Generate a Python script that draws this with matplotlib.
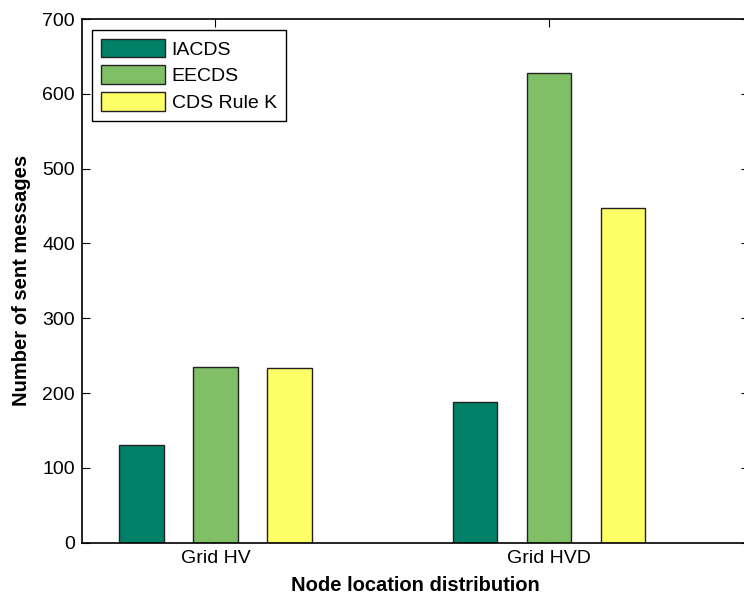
import matplotlib
matplotlib.use("Agg")
import matplotlib.pyplot as plt
import numpy as np

categories = ["Grid HV", "Grid HVD"]
series_names = ["IACDS", "EECDS", "CDS Rule K"]
iacds = [130, 188]
eecds = [235, 628]
cds_rule_k = [233, 448]
y_ticks = [0, 100, 200, 300, 400, 500, 600, 700]

colors = ["#008066", "#80BF66", "#FFFF66"]

plt.rcParams["font.family"] = ["Liberation Sans", "DejaVu Sans"]

fig = plt.figure(figsize=(7.44, 5.98), dpi=100)
ax = fig.add_axes([82 / 744, 1 - 542.7 / 598, (749 - 82) / 744, (542.7 - 19) / 598])

x = np.arange(1, len(categories) + 1)
offset = 0.222
width = 0.133
for i, (vals, name) in enumerate(zip([iacds, eecds, cds_rule_k], series_names)):
    ax.bar(x + (i - 1) * offset, vals, width, color=colors[i], edgecolor="#222222",
           linewidth=1.0, label=name, zorder=2)

ax.set_xlim(0.6, 2.6)
ax.set_ylim(0, 700)
ax.set_xticks(x)
ax.set_xticklabels(categories)
ax.set_yticks(y_ticks)
ax.tick_params(direction="in", top=True, right=True, length=6, width=0.8,
               labelsize=14, pad=5)
for s in ax.spines.values():
    s.set_linewidth(1.2)

ax.set_xlabel("Node location distribution", fontsize=14.5, fontweight="bold", labelpad=7)
ax.set_ylabel("Number of sent messages", fontsize=14.5, fontweight="bold", labelpad=8)

leg = ax.legend(loc="upper left", bbox_to_anchor=(92 / 744, 1 - 30 / 598),
                bbox_transform=fig.transFigure, borderaxespad=0, fontsize=14,
                handlelength=3.3, handleheight=1.1, handletextpad=0.35,
                labelspacing=0.35, borderpad=0.45, fancybox=False, framealpha=1)
leg.get_frame().set_edgecolor("black")
leg.get_frame().set_linewidth(1.0)

fig.savefig("out.png", dpi=100)
